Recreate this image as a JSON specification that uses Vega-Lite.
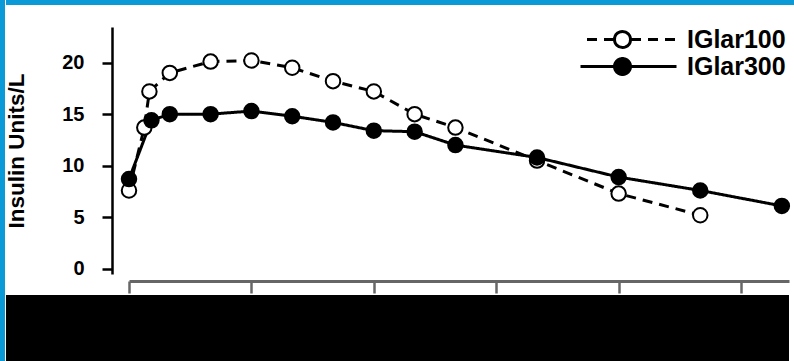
{
  "$schema": "https://vega.github.io/schema/vega-lite/v6.json",
  "background": "white",
  "padding": 0,
  "spacing": 0,
  "resolve": {"scale": {"fill": "independent", "strokeDash": "independent"}},
  "config": {
    "view": {"stroke": null},
    "font": "Liberation Sans",
    "concat": {"spacing": 0}
  },
  "datasets": {
    "pk": [
      {"series": "IGlar100", "hour": 0, "insulin": 7.6},
      {"series": "IGlar100", "hour": 0.75, "insulin": 13.7},
      {"series": "IGlar100", "hour": 1, "insulin": 17.2},
      {"series": "IGlar100", "hour": 2, "insulin": 19.0},
      {"series": "IGlar100", "hour": 4, "insulin": 20.1},
      {"series": "IGlar100", "hour": 6, "insulin": 20.2},
      {"series": "IGlar100", "hour": 8, "insulin": 19.5},
      {"series": "IGlar100", "hour": 10, "insulin": 18.2},
      {"series": "IGlar100", "hour": 12, "insulin": 17.2},
      {"series": "IGlar100", "hour": 14, "insulin": 15.0},
      {"series": "IGlar100", "hour": 16, "insulin": 13.7},
      {"series": "IGlar100", "hour": 20, "insulin": 10.5},
      {"series": "IGlar100", "hour": 24, "insulin": 7.3},
      {"series": "IGlar100", "hour": 28, "insulin": 5.2},
      {"series": "IGlar300", "hour": 0, "insulin": 8.7},
      {"series": "IGlar300", "hour": 1.1, "insulin": 14.4},
      {"series": "IGlar300", "hour": 2, "insulin": 15.0},
      {"series": "IGlar300", "hour": 4, "insulin": 15.0},
      {"series": "IGlar300", "hour": 6, "insulin": 15.3},
      {"series": "IGlar300", "hour": 8, "insulin": 14.8},
      {"series": "IGlar300", "hour": 10, "insulin": 14.2},
      {"series": "IGlar300", "hour": 12, "insulin": 13.4},
      {"series": "IGlar300", "hour": 14, "insulin": 13.3},
      {"series": "IGlar300", "hour": 16, "insulin": 12.0},
      {"series": "IGlar300", "hour": 20, "insulin": 10.8},
      {"series": "IGlar300", "hour": 24, "insulin": 8.9},
      {"series": "IGlar300", "hour": 28, "insulin": 7.6},
      {"series": "IGlar300", "hour": 32, "insulin": 6.1}
    ],
    "none": []
  },
  "hconcat": [
    {
      "data": {"name": "none"},
      "mark": {"type": "point", "opacity": 0},
      "width": 5,
      "height": 361,
      "view": {"fill": "#0a9ad8", "stroke": null}
    },
    {
      "spacing": 0,
      "resolve": {"scale": {"fill": "independent", "strokeDash": "independent"}},
      "vconcat": [
        {
          "data": {"name": "none"},
          "mark": {"type": "point", "opacity": 0},
          "width": 789,
          "height": 5,
          "view": {"fill": "#0a9ad8", "stroke": null}
        },
        {
          "data": {"name": "none"},
          "mark": {"type": "point", "opacity": 0},
          "width": 789,
          "height": 22
        },
        {
          "spacing": 0,
          "bounds": "flush",
          "resolve": {"scale": {"fill": "independent", "strokeDash": "independent"}},
          "hconcat": [
            {
              "data": {"name": "none"},
              "mark": {"type": "point", "opacity": 0},
              "width": 123,
              "height": 247
            },
            {
              "width": 660,
              "height": 247,
              "data": {"name": "pk"},
              "encoding": {
                "x": {
                  "field": "hour",
                  "type": "quantitative",
                  "scale": {"domain": [0, 32.35], "nice": false, "zero": false},
                  "axis": {
                    "values": [0, 6, 12, 18, 24, 30],
                    "labels": false,
                    "title": null,
                    "offset": 7,
                    "grid": false,
                    "tickSize": 12,
                    "tickWidth": 2.5,
                    "tickColor": "#666666",
                    "domainColor": "#666666",
                    "domainWidth": 3
                  }
                },
                "y": {
                  "field": "insulin",
                  "type": "quantitative",
                  "scale": {"domain": [-0.5, 23.45], "nice": false, "zero": false},
                  "axis": {
                    "values": [0, 5, 10, 15, 20],
                    "title": "Insulin Units/L",
                    "offset": 17,
                    "grid": false,
                    "tickSize": 10,
                    "tickWidth": 2.5,
                    "tickColor": "black",
                    "domainColor": "black",
                    "domainWidth": 2.5,
                    "labelFontSize": 20,
                    "labelFontWeight": "bold",
                    "labelColor": "black",
                    "labelPadding": 18,
                    "titleFontSize": 22.5,
                    "titleFontWeight": "bold",
                    "titleColor": "black",
                    "titlePadding": 33
                  }
                }
              },
              "layer": [
                {
                  "mark": {"type": "line", "color": "black", "strokeWidth": 3},
                  "encoding": {
                    "strokeDash": {
                      "field": "series",
                      "type": "nominal",
                      "scale": {"domain": ["IGlar100", "IGlar300"], "range": [[10, 7], [1, 0]]},
                      "legend": {
                        "title": null,
                        "orient": "none",
                        "legendX": 481,
                        "legendY": 0,
                        "padding": 0,
                        "labelFontSize": 25,
                        "labelFontWeight": "bold",
                        "labelColor": "black",
                        "labelOffset": 52,
                        "symbolType": "M-8.5,0H-42M8.5,0H54M8,0A8,8,0,1,1,-8,0A8,8,0,1,1,8,0M-8,0A8,8,0,1,1,8,0A8,8,0,1,1,-8,0",
                        "symbolSize": 4,
                        "symbolStrokeWidth": 3,
                        "symbolStrokeColor": "black",
                        "rowPadding": -2
                      }
                    }
                  }
                },
                {
                  "mark": {"type": "point", "filled": true, "size": 210, "stroke": "black", "strokeWidth": 2, "opacity": 1},
                  "encoding": {
                    "fill": {
                      "field": "series",
                      "type": "nominal",
                      "scale": {"domain": ["IGlar100", "IGlar300"], "range": ["white", "black"]},
                      "legend": {
                        "title": null,
                        "orient": "none",
                        "legendX": 481,
                        "legendY": 0,
                        "padding": 0,
                        "labelFontSize": 25,
                        "labelFontWeight": "bold",
                        "labelColor": "black",
                        "labelOffset": 52,
                        "symbolType": "M-8.5,0H-42M8.5,0H54M8,0A8,8,0,1,1,-8,0A8,8,0,1,1,8,0M-8,0A8,8,0,1,1,8,0A8,8,0,1,1,-8,0",
                        "symbolSize": 4,
                        "symbolStrokeWidth": 3,
                        "symbolStrokeColor": "black",
                        "rowPadding": -2
                      }
                    }
                  }
                }
              ]
            }
          ]
        },
        {
          "data": {"name": "none"},
          "mark": {"type": "point", "opacity": 0},
          "width": 783,
          "height": 67,
          "view": {"fill": "black", "stroke": null}
        }
      ]
    }
  ]
}
